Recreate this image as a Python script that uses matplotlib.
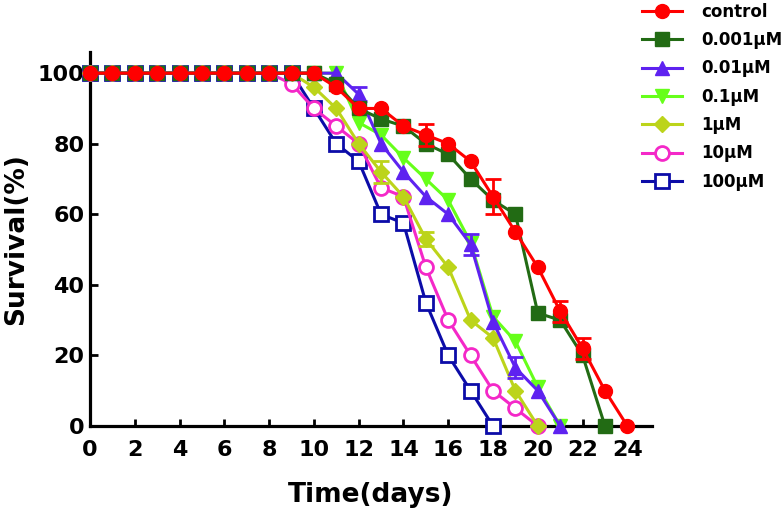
import matplotlib
matplotlib.use("Agg")
import matplotlib.pyplot as plt
import numpy as np

plt.rcParams['font.family'] = ['DejaVu Sans']
plt.rcParams['font.weight'] = 'bold'

days = list(range(0, 25))

control = [100]*11 + [96, 90, 90, 85, 82.5, 80, 75, 65, 55, 45, 32.5, 22, 10, 0]
uM0001 = [100]*11 + [97, 90, 87, 85, 80, 77, 70, 64, 60, 32, 30, 20, 0]
uM001 = [100]*12 + [94, 80, 72, 65, 60, 51.5, 29.5, 16.5, 10, 0]
uM01 = [100]*12 + [86, 82.5, 76, 70, 64, 52, 31, 24, 11, 0]
uM1 = [100]*10 + [96, 90, 80, 72, 65, 53, 45, 30, 25, 10, 0]
uM10 = [100]*9 + [97, 90, 85, 80, 67.5, 65, 45, 30, 20, 10, 5, 0]
uM100 = [100]*10 + [90, 80, 75, 60, 57.5, 35, 20, 10, 0]

# error bars: {day: sem}
err_control = {15: 3, 18: 5, 21: 3, 22: 3}
err_0001 = {}
err_001 = {12: 2, 17: 3, 19: 3}
err_01 = {}
err_1 = {13: 3, 15: 2}
err_10 = {}
err_100 = {}

labels = ['control', '0.001\u03bcM', '0.01\u03bcM', '0.1\u03bcM', '1\u03bcM', '10\u03bcM', '100\u03bcM']
series = [control, uM0001, uM001, uM01, uM1, uM10, uM100]
errs = [err_control, err_0001, err_001, err_01, err_1, err_10, err_100]
colors = ['#FF0000', '#226B14', '#5E22F0', '#66FF1A', '#BCD41A', '#F428C8', '#0C0CA8']
markers = ['o', 's', '^', 'v', 'D', 'o', 's']
msizes = [10, 9.5, 10, 10, 8.5, 10, 9.5]
open_m = [False, False, False, False, False, True, True]

fig = plt.figure(figsize=(7.83, 5.12), dpi=100)
ax = fig.add_axes([90/783, 1 - 426/512, (652-90)/783, (426-52)/512])

handles = [None]*len(series)
for i in reversed(range(len(series))):
    y = series[i]
    x = days[:len(y)]
    c = colors[i]
    face = 'white' if open_m[i] else c
    h, = ax.plot(x, y, color=c, lw=2.2, marker=markers[i], ms=msizes[i],
                 mfc=face, mec=c, mew=2.0 if open_m[i] else 1.0,
                 clip_on=False, zorder=3 + (len(series) - i) * 0.1)
    handles[i] = h
    if errs[i]:
        ex = list(errs[i].keys())
        ey = [y[d] for d in ex]
        ee = list(errs[i].values())
        ax.errorbar(ex, ey, yerr=ee, fmt='none', ecolor=c, elinewidth=2.0,
                    capsize=5.5, capthick=2.0, clip_on=False,
                    zorder=3 + (len(series) - i) * 0.1)

ax.set_xlim(0, 25.1)
ax.set_ylim(0, 106)
ax.set_xticks(range(0, 25, 2))
ax.set_yticks(range(0, 101, 20))
for s in ['top', 'right']:
    ax.spines[s].set_visible(False)
for s in ['left', 'bottom']:
    ax.spines[s].set_linewidth(2.3)
ax.tick_params(axis='x', direction='in', length=5, width=2, labelsize=16, pad=10)
ax.tick_params(axis='y', direction='in', length=6, width=2, labelsize=16, pad=4)
for lab in ax.get_xticklabels() + ax.get_yticklabels():
    lab.set_fontweight('bold')

ax.set_xlabel('Time(days)', fontsize=19, fontweight='bold', labelpad=16)
ax.set_ylabel('Survival(%)', fontsize=19, fontweight='bold', labelpad=6)

leg = fig.legend(handles, labels, loc='upper left', bbox_to_anchor=(640/783, 0.998),
                 frameon=False, fontsize=12, handlelength=2.4, handletextpad=1.2,
                 labelspacing=0.62, borderpad=0.1, borderaxespad=0)
for t in leg.get_texts():
    t.set_fontweight('bold')

fig.savefig('out.png', dpi=100)
